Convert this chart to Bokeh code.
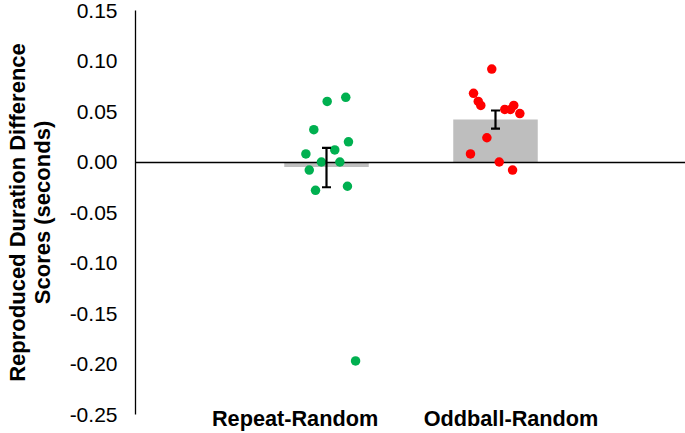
from bokeh.plotting import figure
from bokeh.models import ColumnDataSource, Whisker, FixedTicker, Range1d, TeeHead
from bokeh.embed import file_html
from bokeh.resources import INLINE

# ---- data ----
categories = ["Repeat-Random", "Oddball-Random"]
means = [-0.005, 0.042]
sem_upper = [0.014, 0.051]
sem_lower = [-0.025, 0.033]

repeat_scores = [0.060, 0.064, 0.032, 0.020, 0.012, 0.008, 0.000, 0.000, -0.008, -0.028, -0.024, -0.197]
repeat_jitter = [0.004, 0.114, -0.075, 0.130, 0.049, -0.122, -0.030, 0.079, -0.102, -0.065, 0.124, 0.172]
oddball_scores = [0.092, 0.068, 0.060, 0.056, 0.052, 0.052, 0.056, 0.048, 0.024, 0.008, 0.000, -0.008]
oddball_jitter = [-0.022, -0.130, -0.102, -0.087, 0.055, 0.089, 0.108, 0.144, -0.051, -0.148, 0.022, 0.101]

y_ticks = [0.15, 0.10, 0.05, 0.00, -0.05, -0.10, -0.15, -0.20, -0.25]

# ---- layout ----
FONT = "Liberation Sans"
bar_x = [1, 2]
label_x = [0.814, 2.092]

p = figure(width=685, height=433, output_backend="svg", toolbar_location=None,
           x_range=Range1d(-0.1302, 3.1243), y_range=Range1d(-0.25, 0.15),
           min_border_left=135, min_border_right=0, min_border_top=10, min_border_bottom=17)
p.outline_line_color = None
p.xgrid.visible = False
p.ygrid.visible = False
p.background_fill_color = "white"
p.border_fill_color = "white"

bars = ColumnDataSource(dict(x=bar_x, top=means, upper=sem_upper, lower=sem_lower))
p.vbar(x="x", top="top", bottom=0, width=0.5, source=bars,
       fill_color="#BEBEBE", line_color=None)
p.hspan(y=[0], line_color="black", line_width=1.5)

p.scatter([bar_x[0] + j for j in repeat_jitter], repeat_scores, size=9.5,
          fill_color="#00B050", line_color=None)
p.scatter([bar_x[1] + j for j in oddball_jitter], oddball_scores, size=9.5,
          fill_color="#FF0000", line_color=None)

w = Whisker(base="x", upper="upper", lower="lower", source=bars,
            line_color="black", line_width=2.2,
            upper_head=TeeHead(size=9, line_width=2.2, line_color="black"),
            lower_head=TeeHead(size=9, line_width=2.2, line_color="black"))
w.level = "glyph"
p.add_layout(w)

# y axis
ya = p.yaxis[0]
ya.ticker = FixedTicker(ticks=y_ticks)
ya.major_label_overrides = {t: f"{t:.2f}" for t in y_ticks}
ya.bounds = (-0.25, 0.15)
ya.axis_line_color = "black"
ya.axis_line_width = 1.3
ya.major_tick_line_color = None
ya.minor_tick_line_color = None
ya.major_tick_out = 0
ya.major_tick_in = 0
ya.major_label_standoff = 18
ya.major_label_text_font = FONT
ya.major_label_text_font_size = "21px"
ya.major_label_text_color = "black"
ya.axis_label = "Reproduced Duration Difference\nScores (seconds)"
ya.axis_label_text_font = FONT
ya.axis_label_text_font_size = "22px"
ya.axis_label_text_font_style = "bold"
ya.axis_label_text_color = "black"
ya.axis_label_text_line_height = 1.0
ya.axis_label_standoff = 12

# x axis
xa = p.xaxis[0]
xa.ticker = FixedTicker(ticks=label_x)
xa.major_label_overrides = {label_x[i]: categories[i] for i in range(2)}
xa.axis_line_color = None
xa.major_tick_line_color = None
xa.minor_tick_line_color = None
xa.major_tick_out = 0
xa.major_tick_in = 0
xa.major_label_standoff = -9
xa.major_label_text_font = FONT
xa.major_label_text_font_size = "21.7px"
xa.major_label_text_font_style = "bold"
xa.major_label_text_color = "black"

open("out.html", "w").write(file_html(p, INLINE))
